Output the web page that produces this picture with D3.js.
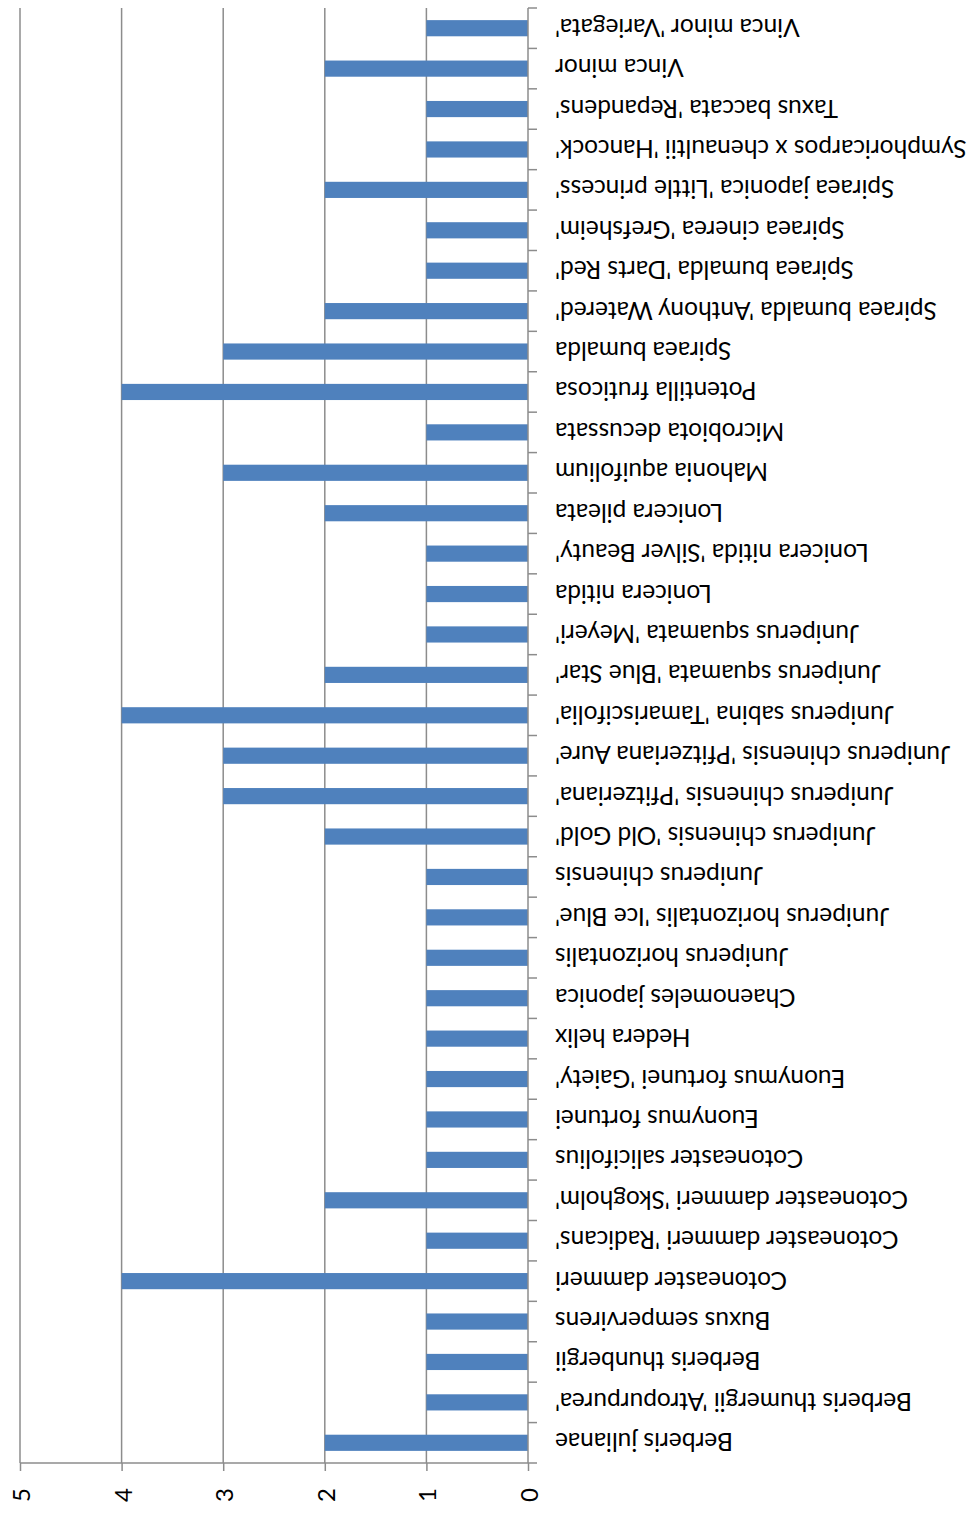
<!DOCTYPE html>
<html>
<head>
<meta charset="utf-8">
<script src="https://cdn.jsdelivr.net/npm/d3@7"></script>
<style>
  body { margin: 0; background: #fff; }
  svg { display: block; }
  text { font-variant-ligatures: none; }
</style>
</head>
<body>
<svg id="chart"></svg>
<script>
// plant names, first one is drawn at the bottom
var categories = [
  "Berberis julianae",
  "Berberis thumergii 'Atropurpurea'",
  "Berberis thunbergii",
  "Buxus sempervirens",
  "Cotoneaster dammeri",
  "Cotoneaster dammeri 'Radicans'",
  "Cotoneaster dammeri 'Skogholm'",
  "Cotoneaster salicifolius",
  "Euonymus fortunei",
  "Euonymus fortunei 'Gaiety'",
  "Hedera helix",
  "Chaenomeles japonica",
  "Juniperus horizontalis",
  "Juniperus horizontalis 'Ice Blue'",
  "Juniperus chinensis",
  "Juniperus chinensis 'Old Gold'",
  "Juniperus chinensis 'Pfitzeriana'",
  "Juniperus chinensis 'Pfitzeriana Aure'",
  "Juniperus sabina 'Tamariscifolia'",
  "Juniperus squamata 'Blue Star'",
  "Juniperus squamata 'Meyeri'",
  "Lonicera nitida",
  "Lonicera nitida 'Silver Beauty'",
  "Lonicera pileata",
  "Mahonia aquifolium",
  "Microbiota decussata",
  "Potentilla fruticosa",
  "Spiraea bumalda",
  "Spiraea bumalda 'Anthony Watered'",
  "Spiraea bumalda 'Darts Red'",
  "Spiraea cinerea 'Grefsheim'",
  "Spiraea japonica 'Little princess'",
  "Symphoricarpos x chenaultii 'Hancock'",
  "Taxus baccata 'Repandens'",
  "Vinca minor",
  "Vinca minor 'Variegata'"
];
var values = [2, 1, 1, 1, 4, 1, 2, 1, 1, 1, 1, 1, 1, 1, 1, 2, 3, 3, 4, 2, 1, 1, 1, 2, 3, 1, 4, 3, 2, 1, 1, 2, 1, 1, 2, 1];
var valueTicks = [0, 1, 2, 3, 4, 5];

var width = 977, height = 1517;
var font = "Lato, 'Open Sans', sans-serif";
var gridColor = "#8c8c8c";

var svg = d3.select("#chart")
    .attr("width", width)
    .attr("height", height);

// value axis runs right to left (0 on the right)
var x = d3.scaleLinear().domain([0, 5]).range([528, 20]);
var y = d3.scaleBand().domain(categories).range([1463, 8]);

// gridlines
svg.append("g")
  .selectAll("line")
  .data(valueTicks.slice(1))
  .join("line")
    .attr("x1", d => x(d))
    .attr("x2", d => x(d))
    .attr("y1", 8)
    .attr("y2", 1463)
    .attr("stroke", gridColor)
    .attr("stroke-width", 1.5);

// bars
svg.append("g")
  .selectAll("rect")
  .data(categories)
  .join("rect")
    .attr("x", (d, i) => x(values[i]))
    .attr("y", d => y(d) + y.bandwidth() * 0.3)
    .attr("width", (d, i) => x(0) - x(values[i]))
    .attr("height", y.bandwidth() * 0.4)
    .attr("fill", "#4f81bd");

// value axis at the bottom
var xAxis = d3.axisBottom(x).tickValues(valueTicks).tickFormat(d3.format("d")).tickSize(8).tickPadding(0);
svg.append("g")
    .attr("transform", "translate(0,1463)")
    .call(xAxis)
    .call(g => g.select(".domain").attr("d", "M" + x(5) + ",0H" + x(0)).attr("stroke", gridColor).attr("stroke-width", 1.5))
    .call(g => g.selectAll(".tick line").attr("stroke", gridColor).attr("stroke-width", 1.5))
    .call(g => g.selectAll(".tick text")
        .attr("fill", "#000")
        .attr("font-family", font)
        .attr("font-size", 24)
        .attr("text-anchor", "middle")
        .attr("dy", null)
        .attr("y", 0)
        .attr("dominant-baseline", "central")
        .attr("transform", "translate(0,32) rotate(-90)"));

// category axis on the right, labels upside down
var yAxis = d3.axisRight(y).tickSize(0).tickPadding(0);
var gy = svg.append("g")
    .attr("transform", "translate(" + x(0) + ",0)")
    .call(yAxis);
gy.select(".domain").attr("d", "M0,8V1463").attr("stroke", gridColor).attr("stroke-width", 1.5);
gy.selectAll(".tick line").remove();
gy.selectAll(".tick text")
    .attr("fill", "#000")
    .attr("font-family", font)
    .attr("font-size", 24.5)
    .attr("x", 0)
    .attr("dy", null)
    .attr("dominant-baseline", "central")
    .attr("text-anchor", "end")
    .attr("transform", "translate(27,0) rotate(180)");

// category tick marks between bands
gy.append("g")
  .selectAll("line")
  .data(categories.concat([null]))
  .join("line")
    .attr("x1", 0)
    .attr("x2", 9)
    .attr("y1", d => d === null ? y.range()[1] : y(d) + y.bandwidth())
    .attr("y2", d => d === null ? y.range()[1] : y(d) + y.bandwidth())
    .attr("stroke", gridColor)
    .attr("stroke-width", 1.5);
</script>
</body>
</html>
